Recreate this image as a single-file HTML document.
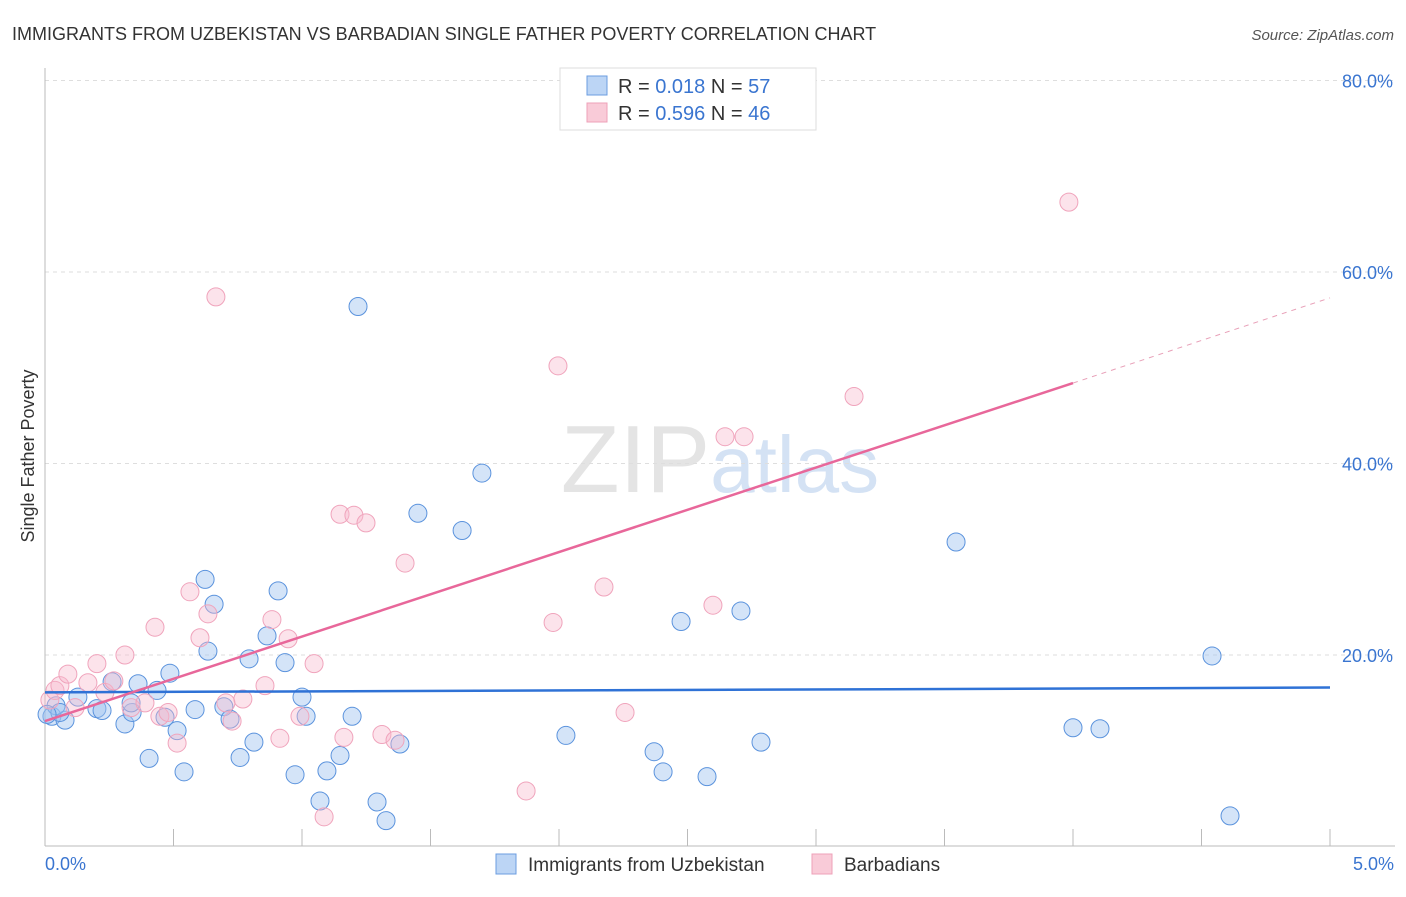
<!DOCTYPE html>
<html><head><meta charset="utf-8"><style>
body{margin:0;background:#fff;font-family:"Liberation Sans",sans-serif;}
svg text{font-family:"Liberation Sans",sans-serif;}
</style></head><body>
<svg id="chart" width="1406" height="892">
<text x="12" y="40" font-size="18" fill="#333">IMMIGRANTS FROM UZBEKISTAN VS BARBADIAN SINGLE FATHER POVERTY CORRELATION CHART</text>
<text x="1394" y="40" font-size="15" fill="#555" text-anchor="end" font-style="italic">Source: ZipAtlas.com</text>
<text x="720" y="492" font-size="96" fill="#e4e4e4" text-anchor="middle" font-family="Liberation Serif">ZIP<tspan fill="#d4e2f4" font-family="Liberation Sans" font-size="80">atlas</tspan></text>
<text transform="translate(34,456) rotate(-90)" font-size="18" fill="#333" text-anchor="middle">Single Father Poverty</text>
<g id="grid"></g><g id="ticks"></g><g id="pts"></g><g id="trend"></g>
<g>
<rect x="560" y="68" width="256" height="62" fill="#fff" stroke="#ddd"/>
<rect x="587" y="76" width="20" height="19" fill="#bcd5f5" stroke="#6b9de0"/>
<text x="618" y="93" font-size="20" fill="#333">R = <tspan fill="#3a75d0">0.018</tspan>   N = <tspan fill="#3a75d0">57</tspan></text>
<rect x="587" y="103" width="20" height="19" fill="#f9cbd8" stroke="#eea0b8"/>
<text x="618" y="120" font-size="20" fill="#333">R = <tspan fill="#3a75d0">0.596</tspan>   N = <tspan fill="#3a75d0">46</tspan></text>
</g>
<g>
<rect x="496" y="854" width="20" height="20" fill="#bcd5f5" stroke="#6b9de0"/>
<text x="528" y="871" font-size="19" fill="#333">Immigrants from Uzbekistan</text>
<rect x="812" y="854" width="20" height="20" fill="#f9cbd8" stroke="#eea0b8"/>
<text x="844" y="871" font-size="19" fill="#333">Barbadians</text>
</g>
</svg>
<script>
const yTicks=[20,40,60,80];
const xTickLabels=["0.0%","5.0%"];
const blueX=[0.027,0.078,0.043,0.128,0.202,0.222,0.261,0.311,0.339,0.362,0.405,0.436,0.467,0.486,0.514,0.541,0.584,0.623,0.634,0.658,0.696,0.72,0.759,0.794,0.813,0.864,0.907,0.934,0.973,1.0,1.016,1.07,1.097,1.148,1.195,1.218,1.292,1.327,1.381,1.451,1.623,1.7,2.027,2.37,2.405,2.475,2.576,2.708,2.786,3.545,4.0,4.105,4.541,4.611,0.335,0.058,0.008];
const blueY=[13.6,13.2,14.7,15.6,14.4,14.2,17.2,12.8,14.0,17.0,9.2,16.3,13.5,18.1,12.1,7.8,14.3,27.9,20.4,25.3,14.6,13.3,9.3,19.6,10.9,22.0,26.7,19.2,7.5,15.6,13.6,4.75,7.9,9.5,13.6,56.4,4.65,2.7,10.7,34.8,33.0,39.0,11.6,9.9,7.8,23.5,7.3,24.6,10.9,31.8,12.4,12.3,19.9,3.2,15.0,14.0,13.8];
const pinkX=[0.019,0.039,0.058,0.089,0.117,0.167,0.202,0.233,0.268,0.311,0.335,0.389,0.428,0.447,0.479,0.514,0.564,0.603,0.634,0.665,0.704,0.728,0.77,0.856,0.883,0.914,0.946,0.992,1.047,1.086,1.148,1.163,1.202,1.249,1.311,1.362,1.401,1.872,1.977,1.996,2.175,2.257,2.599,2.646,2.72,3.148,3.984];
const pinkY=[15.3,16.3,16.8,18.0,14.5,17.1,19.1,16.1,17.3,20.0,14.5,15.0,22.9,13.6,14.0,10.8,26.6,21.8,24.3,57.4,15.0,13.1,15.4,16.8,23.7,11.3,21.7,13.6,19.1,3.1,34.7,11.4,34.6,33.8,11.7,11.1,29.6,5.8,23.4,50.2,27.1,14.0,25.2,42.8,42.8,47.0,67.3];
const blueTrend=[16.1,16.6];
const pinkTrend=[13.1,48.4,57.3];
const pinkTrendX=[0,4.0,5.0];
const X=v=>45+v*257, Y=v=>846.5-v*9.575;
const NS="http://www.w3.org/2000/svg";
function mk(tag,attrs,parent){const e=document.createElementNS(NS,tag);for(const k in attrs)e.setAttribute(k,attrs[k]);document.getElementById(parent).appendChild(e);return e;}
yTicks.forEach(t=>{
 const l=mk('line',{x1:45,x2:1395,y1:Y(t),y2:Y(t),stroke:'#dedede','stroke-dasharray':'4,4'},'grid');
 
 
 const tx=mk('text',{x:1393,y:Y(t)+7,'font-size':18,fill:'#3a75d0','text-anchor':'end'},'grid');
 tx.textContent=t.toFixed(1)+'%';
 
 
});
mk('line',{x1:45,x2:45,y1:68,y2:846,stroke:'#bbb'},'ticks');
mk('line',{x1:45,x2:1395,y1:846,y2:846,stroke:'#bbb'},'ticks');
for(let i=1;i<=10;i++){mk('line',{x1:X(i*0.5),x2:X(i*0.5),y1:829,y2:846,stroke:'#bbb'},'ticks');}
[[0,'start',45],[5,'end',1394]].forEach((a,i)=>{
 const t=mk('text',{x:a[2],y:870,'font-size':18,fill:'#3a75d0','text-anchor':a[1]},'ticks');
 t.textContent=xTickLabels[i];
 
 
});
blueX.forEach((x,i)=>{
 const c=mk('circle',{cx:X(x),cy:Y(blueY[i]),r:9,fill:'rgba(160,196,240,0.45)',stroke:'#5b93dd','stroke-width':1},'pts');
 
 
});
pinkX.forEach((x,i)=>{
 const c=mk('circle',{cx:X(x),cy:Y(pinkY[i]),r:9,fill:'rgba(248,185,205,0.4)',stroke:'#f0a4bc','stroke-width':1},'pts');
 
 
});
const bl=mk('line',{x1:X(0),x2:X(5),y1:Y(blueTrend[0]),y2:Y(blueTrend[1]),stroke:'#2f72d6','stroke-width':2.5},'trend');


const pl=mk('line',{x1:X(pinkTrendX[0]),x2:X(pinkTrendX[1]),y1:Y(pinkTrend[0]),y2:Y(pinkTrend[1]),stroke:'#e8679a','stroke-width':2.5},'trend');


const pd=mk('line',{x1:X(pinkTrendX[1]),x2:X(pinkTrendX[2]),y1:Y(pinkTrend[1]),y2:Y(pinkTrend[2]),stroke:'#e8a0b8','stroke-width':1,'stroke-dasharray':'5,5'},'trend');


</script>
</body></html>
